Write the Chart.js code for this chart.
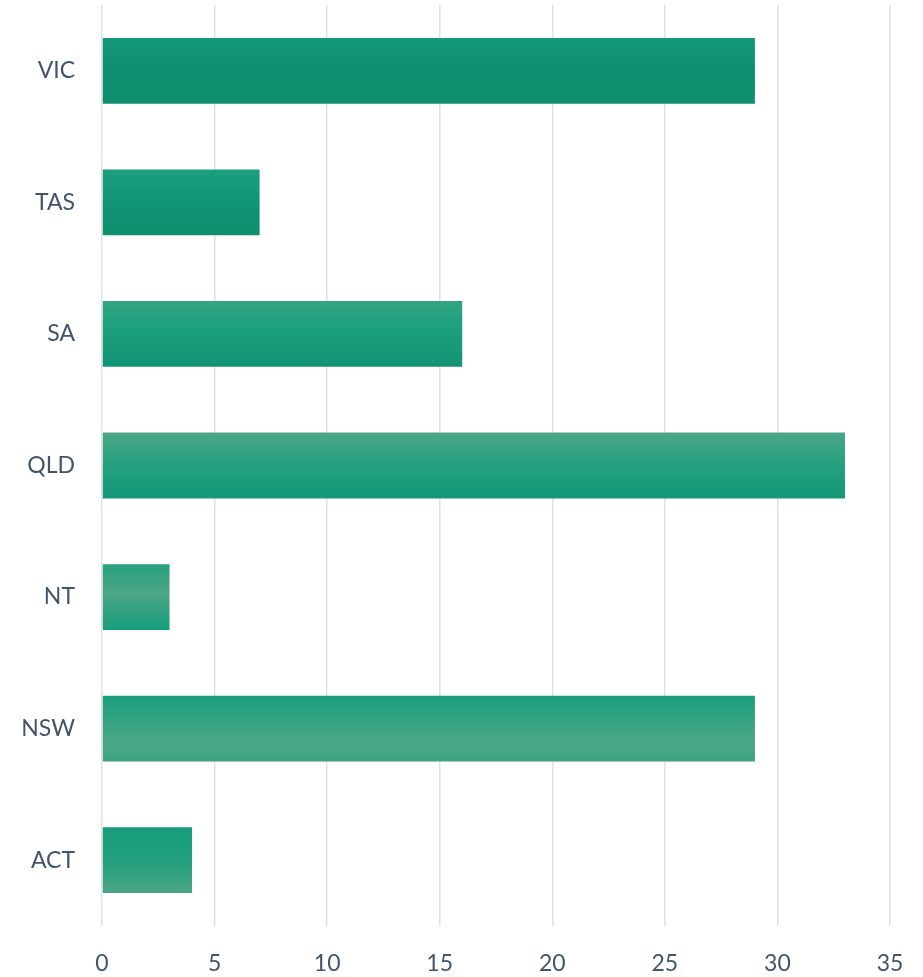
<!DOCTYPE html>
<html>
<head>
<meta charset="utf-8">
<script src="https://cdn.jsdelivr.net/npm/chart.js@4/dist/chart.umd.min.js"></script>
<style>
  body { margin: 0; background: #ffffff; }
  #wrap { width: 923px; height: 977px; position: relative; }
</style>
</head>
<body>
<div id="wrap"><canvas id="chart"></canvas></div>
<script>
// Data
const states = ["VIC", "TAS", "SA", "QLD", "NT", "NSW", "ACT"];
const counts = [29, 7, 16, 33, 3, 29, 4];
const xTicks = [0, 5, 10, 15, 20, 25, 30, 35];

// Per-bar vertical gradient stops (top -> bottom), styling only
const barStops = [
  [[0, "#16997a"], [0.4, "#0f9171"], [1, "#0e8f6e"]],
  [[0, "#1ba07e"], [0.6, "#109272"], [1, "#0e8f6e"]],
  [[0, "#36a482"], [0.35, "#1ea17e"], [1, "#129474"]],
  [[0, "#4ba686"], [0.5, "#24a07e"], [1, "#139878"]],
  [[0, "#26a07e"], [0.45, "#4ba686"], [1, "#189e7b"]],
  [[0, "#1a9e7c"], [0.7, "#4ba686"], [1, "#3fa381"]],
  [[0, "#169c79"], [0.45, "#1f9f7c"], [1, "#4aa585"]],
];

function barFill(ctx) {
  const chart = ctx.chart;
  const area = chart.chartArea;
  if (!area || ctx.dataIndex === undefined) return "#14977a";
  const y = chart.scales.y.getPixelForValue(ctx.dataIndex);
  const half = (area.bottom - area.top) / states.length * 0.25;
  const g = chart.ctx.createLinearGradient(0, y - half, 0, y + half);
  barStops[ctx.dataIndex].forEach(([p, c]) => g.addColorStop(p, c));
  return g;
}

const tickFont = { family: "Lato, 'Open Sans', sans-serif", size: 23 };
const tickColor = "#44546a";

new Chart(document.getElementById("chart"), {
  type: "bar",
  data: {
    labels: states,
    datasets: [{
      data: counts,
      backgroundColor: barFill,
      borderWidth: 0,
      categoryPercentage: 1,
      barPercentage: 0.5,
    }],
  },
  options: {
    indexAxis: "y",
    responsive: true,
    maintainAspectRatio: false,
    animation: false,
    layout: { padding: { top: 5, right: 33, bottom: 0, left: 0 } },
    plugins: { legend: { display: false }, tooltip: { enabled: false } },
    scales: {
      x: {
        min: 0,
        max: 35,
        afterBuildTicks: (scale) => { scale.ticks = xTicks.map((v) => ({ value: v })); },
        grid: { color: "#dde1e8", lineWidth: 1.5, drawTicks: false },
        border: { display: false },
        ticks: { font: tickFont, color: tickColor, padding: 24, maxRotation: 0 },
        afterFit: (scale) => {
          scale.height = 51;
          scale.paddingLeft = 0;
          scale.paddingRight = 0;
        },
      },
      y: {
        grid: { display: false, drawTicks: false },
        border: { display: false },
        ticks: { font: tickFont, color: tickColor, padding: 27 },
        afterFit: (scale) => {
          scale.width = 102;
          scale.paddingTop = 0;
          scale.paddingBottom = 0;
        },
      },
    },
  },
});
</script>
</body>
</html>
